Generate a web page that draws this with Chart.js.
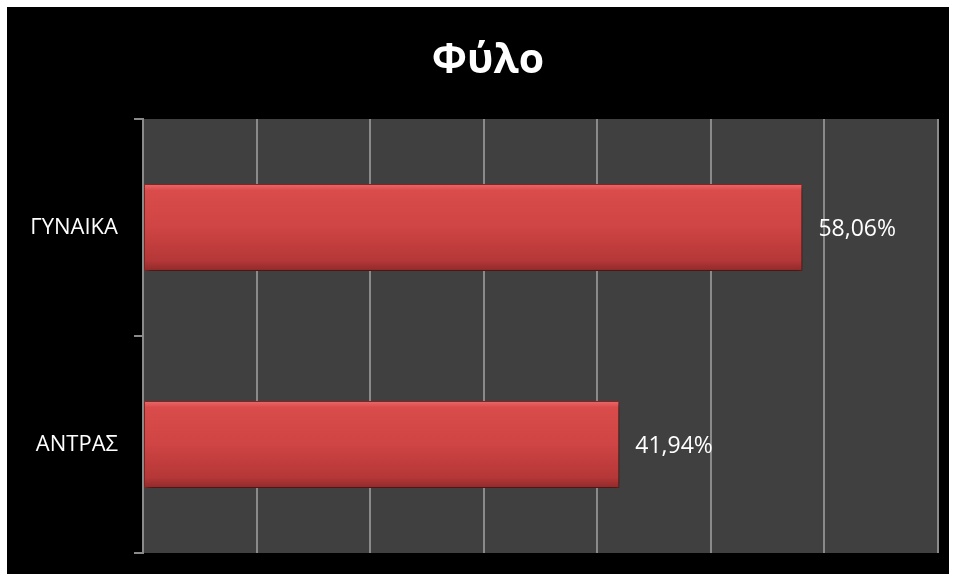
<!DOCTYPE html>
<html>
<head>
<meta charset="utf-8">
<script src="https://cdn.jsdelivr.net/npm/chart.js@4"></script>
<style>
  html, body { margin: 0; padding: 0; background: #ffffff; }
  #wrap { position: absolute; left: 7px; top: 7px; width: 942px; height: 567px; background: #000000; }
</style>
</head>
<body>
<div id="wrap"><canvas id="genderChart" width="942" height="567"></canvas></div>
<script>
// Chart data
const chartTitle = 'Φύλο';
const categories = ['ΓΥΝΑΙΚΑ', 'ΑΝΤΡΑΣ'];
const shares = [58.06, 41.94];
const axisMax = 70;
const axisStep = 10;

const FONT = 'Open Sans';
const gridGray = '#8a8a8a';
const BAR_FRACTION = 0.4;

// Dark plot background behind the bars
const plotBackground = {
    id: 'plotBackground',
    beforeDraw: function(chart) {
        const a = chart.chartArea;
        const ctx = chart.ctx;
        ctx.save();
        ctx.fillStyle = '#404040';
        ctx.fillRect(a.left, a.top, a.right - a.left, a.bottom - a.top);
        ctx.restore();
    }
};

// Title sits a bit right of the canvas centre in the original
const titleText = {
    id: 'titleText',
    afterDraw: function(chart) {
        const ctx = chart.ctx;
        ctx.save();
        ctx.fillStyle = '#ffffff';
        ctx.font = 'bold 41px "' + FONT + '"';
        ctx.textAlign = 'center';
        ctx.textBaseline = 'middle';
        ctx.fillText(chartTitle, 481, 54);
        ctx.restore();
    }
};

// Percent labels to the right of each bar
const valueLabels = {
    id: 'valueLabels',
    afterDatasetsDraw: function(chart) {
        const ctx = chart.ctx;
        const meta = chart.getDatasetMeta(0);
        ctx.save();
        ctx.fillStyle = '#ffffff';
        ctx.font = '23px "' + FONT + '"';
        ctx.textAlign = 'left';
        ctx.textBaseline = 'middle';
        meta.data.forEach(function(bar, i) {
            const txt = shares[i].toFixed(2).replace('.', ',') + '%';
            ctx.fillText(txt, bar.x + 16, bar.y + 2);
        });
        ctx.restore();
    }
};

// Soft drop shadow for the bars
const barShadow = {
    id: 'barShadow',
    beforeDatasetsDraw: function(chart) {
        const ctx = chart.ctx;
        ctx.save();
        ctx.shadowColor = 'rgba(0,0,0,0.55)';
        ctx.shadowBlur = 6;
        ctx.shadowOffsetX = 2;
        ctx.shadowOffsetY = 3;
    },
    afterDatasetsDraw: function(chart) {
        chart.ctx.restore();
    }
};

// Vertical red gradient, positioned from the category scale
function barGradient(context) {
    const chart = context.chart;
    const yScale = chart.scales.y;
    if (!chart.chartArea || !yScale || context.dataIndex === undefined) return '#d04444';
    const cy = yScale.getPixelForValue(context.dataIndex);
    const half = (chart.chartArea.bottom - chart.chartArea.top) / categories.length * BAR_FRACTION / 2;
    if (!isFinite(cy) || !isFinite(half)) return '#d04444';
    const g = chart.ctx.createLinearGradient(0, cy - half, 0, cy + half);
    g.addColorStop(0, '#ec6a6a');
    g.addColorStop(0.07, '#da4c4c');
    g.addColorStop(0.5, '#cf4444');
    g.addColorStop(0.88, '#b53737');
    g.addColorStop(1, '#8f2a2a');
    return g;
}

new Chart(document.getElementById('genderChart'), {
    type: 'bar',
    data: {
        labels: categories,
        datasets: [{
            data: shares,
            backgroundColor: barGradient,
            borderColor: '#8a2828',
            borderWidth: 1,
            borderSkipped: false,
            categoryPercentage: 1,
            barPercentage: BAR_FRACTION
        }]
    },
    options: {
        indexAxis: 'y',
        responsive: false,
        animation: false,
        layout: { padding: { left: 0, right: 11, top: 112, bottom: 21 } },
        plugins: {
            legend: { display: false },
            tooltip: { enabled: false },
            title: { display: false }
        },
        scales: {
            x: {
                min: 0,
                max: axisMax,
                ticks: { display: false, stepSize: axisStep },
                grid: { color: gridGray, lineWidth: 2, drawTicks: false },
                border: { display: false },
                afterFit: function(scale) {
                    scale.height = 0;
                    scale.paddingLeft = 0;
                    scale.paddingRight = 0;
                }
            },
            y: {
                ticks: { color: '#ffffff', font: { family: FONT, size: 22 }, padding: 16 },
                grid: { color: gridGray, lineWidth: 2, drawOnChartArea: false, tickLength: 9, offset: true },
                border: { display: true, color: gridGray, width: 2 },
                afterFit: function(scale) {
                    scale.width = 136;
                    scale.paddingTop = 0;
                    scale.paddingBottom = 0;
                }
            }
        }
    },
    plugins: [plotBackground, barShadow, valueLabels, titleText]
});
</script>
</body>
</html>
